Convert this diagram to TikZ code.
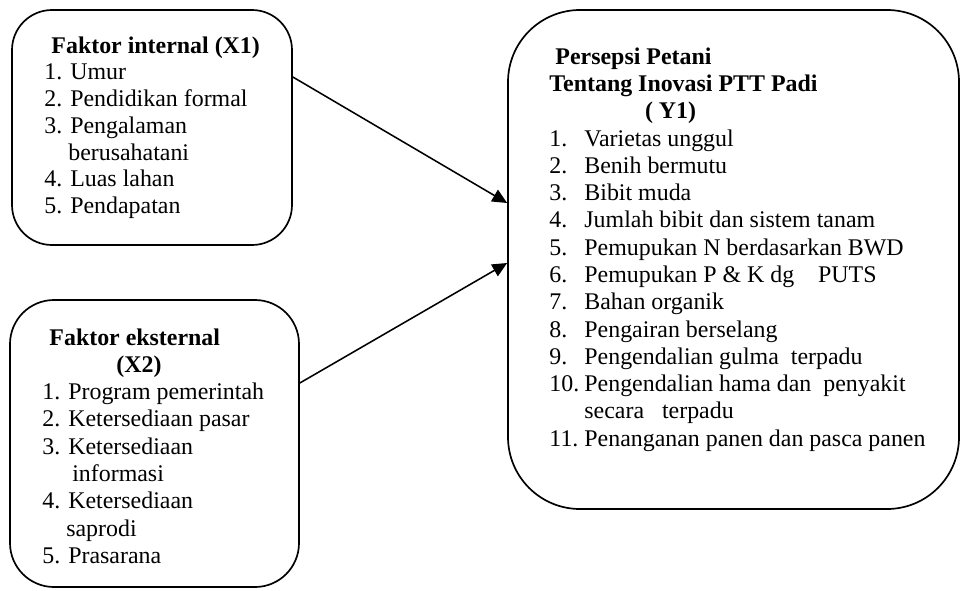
\documentclass[tikz,border=0pt]{standalone}
\usepackage{fontspec}
\setmainfont{Liberation Serif}
\usetikzlibrary{arrows.meta}

\tikzset{
  kotak/.style={draw, line width=1.2pt, rectangle, inner sep=0pt},
  isi/.style={anchor=base west, inner sep=0pt, font=\fontsize{17}{19.4}\selectfont},
  panah/.style={line width=1.1pt, -{Triangle[length=10.5pt,width=9.5pt]}}
}

\begin{document}
\begin{tikzpicture}
  \useasboundingbox (0,0) rectangle (24.025,-14.75);

  %Kotak
  \node[kotak, minimum width=7cm, minimum height=5.875cm, rounded corners=1cm] (internal) at (3.8,-3.1875) {};
  \node[kotak, minimum width=7.225cm, minimum height=7.175cm, rounded corners=1.1cm] (eksternal) at (3.8625,-11.0875) {};
  \node[kotak, minimum width=11.275cm, minimum height=12.475cm, rounded corners=1.8cm] (persepsi) at (18.3375,-6.4875) {};

  %Isi kotak
  \node[isi, font=\fontsize{17}{19}\selectfont] (teksinternal) at ([xshift=0.825cm,yshift=-1.1cm]internal.north west) {%
    \begin{tabular}[t]{@{}l@{}}
      \hspace{5pt}\textbf{Faktor internal (X1)}\\
      1. Umur\\
      2. Pendidikan formal\\
      3. Pengalaman\\
      \phantom{3.} berusahatani\\
      4. Luas lahan\\
      5. Pendapatan
    \end{tabular}};

  \node[isi] (teksekternal) at ([xshift=0.825cm,yshift=-1.15cm]eksternal.north west) {%
    \begin{tabular}[t]{@{}l@{}}
      \hspace{5pt}\textbf{Faktor eksternal}\\
      \hspace{52.6pt}\textbf{(X2)}\\
      1. Program pemerintah\\
      2. Ketersediaan pasar\\
      3. Ketersediaan\\
      \phantom{3.}\ \ informasi\\
      4. Ketersediaan\\
      \phantom{4.} saprodi\\
      5. Prasarana
    \end{tabular}};

  \node[isi] (tekspersepsi) at ([xshift=1.05cm,yshift=-1.38cm]persepsi.north west) {%
    \begin{tabular}[t]{@{}l@{}}
      \hspace{4.3pt}\textbf{Persepsi Petani}\\
      \textbf{Tentang Inovasi PTT Padi}\\
      \hspace{68pt}\textbf{( Y1)}\\
      \makebox[24.9pt][l]{1.}Varietas unggul\\
      \makebox[24.9pt][l]{2.}Benih bermutu\\
      \makebox[24.9pt][l]{3.}Bibit muda\\
      \makebox[24.9pt][l]{4.}Jumlah bibit dan sistem tanam\\
      \makebox[24.9pt][l]{5.}Pemupukan N berdasarkan BWD\\
      \makebox[24.9pt][l]{6.}Pemupukan P \& K dg\quad PUTS\\
      \makebox[24.9pt][l]{7.}Bahan organik\\
      \makebox[24.9pt][l]{8.}Pengairan berselang\\
      \makebox[24.9pt][l]{9.}Pengendalian gulma~ terpadu\\
      \makebox[24.9pt][l]{10.}Pengendalian hama dan~ penyakit\\
      \makebox[24.9pt][l]{}secara~~ terpadu\\
      \makebox[24.9pt][l]{11.}Penanganan panen dan pasca panen
    \end{tabular}};

  %Panah
  \draw[panah] ([yshift=1.2625cm]internal.east) -- ([yshift=1.4125cm]persepsi.west);
  \draw[panah] ([yshift=1.5125cm]eksternal.east) -- ([yshift=-0.0875cm]persepsi.west);
\end{tikzpicture}
\end{document}
